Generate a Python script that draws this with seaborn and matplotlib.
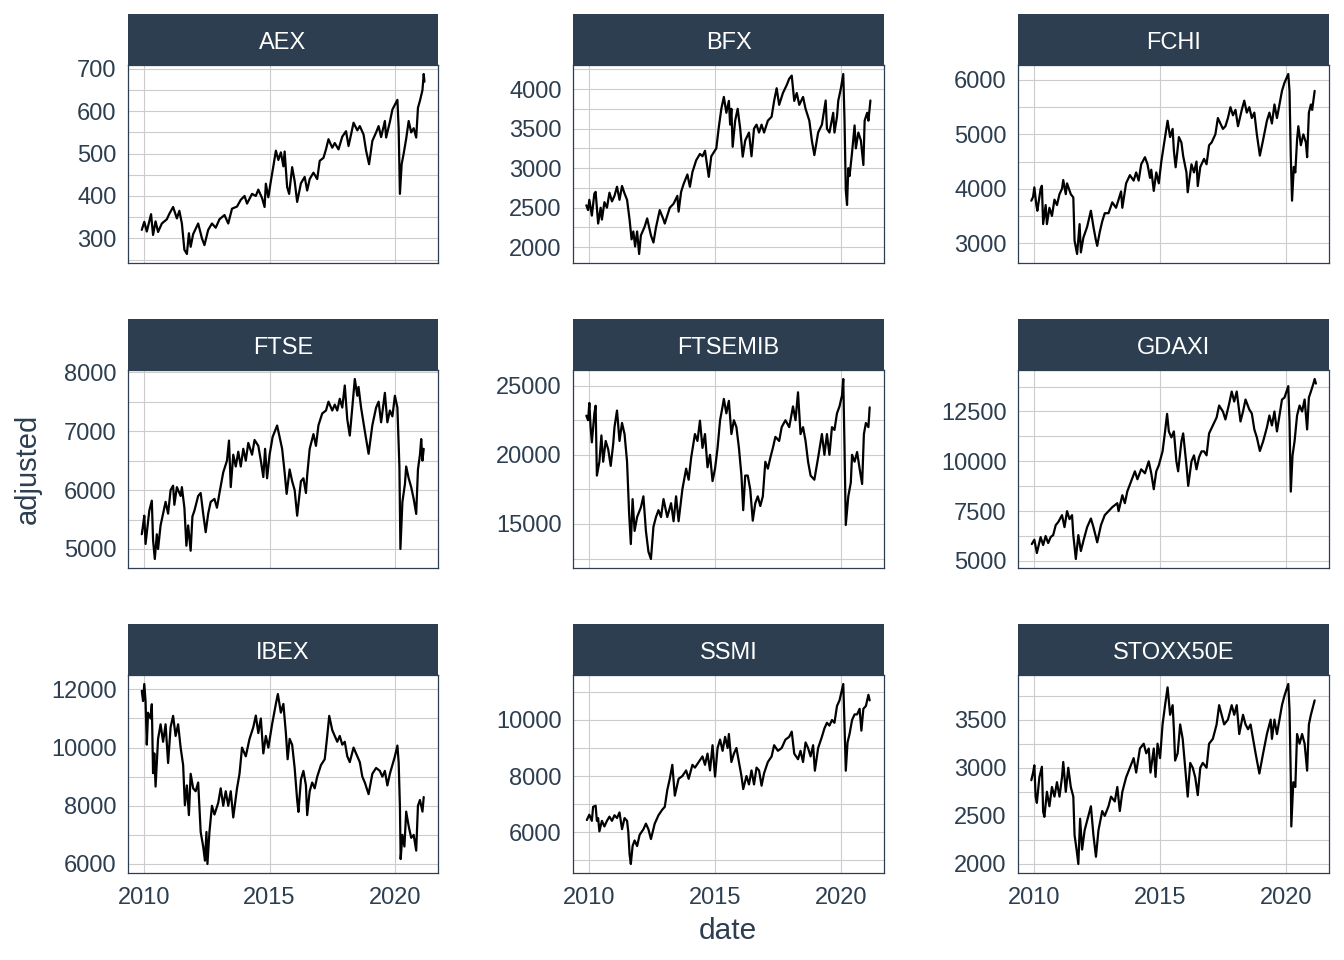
import pandas as pd
import matplotlib
matplotlib.use("Agg")
import matplotlib.pyplot as plt
from matplotlib.ticker import MultipleLocator, FixedLocator
import seaborn as sns

# facet order and the y break step used in each panel
symbols = ["AEX", "BFX", "FCHI", "FTSE", "FTSEMIB", "GDAXI", "IBEX", "SSMI", "STOXX50E"]
y_steps = [100, 500, 1000, 1000, 5000, 2500, 2000, 2000, 500]
x_breaks = [2010, 2015, 2020]
x_labels = ["2010", "2015", "2020"]

# (decimal year, adjusted close)
aex = [(2009.9, 320), (2010.0, 339), (2010.1, 316), (2010.22, 345), (2010.27, 357), (2010.35, 308),
       (2010.45, 340), (2010.55, 315), (2010.7, 335), (2010.9, 345), (2011.0, 358), (2011.15, 374),
       (2011.3, 347), (2011.4, 365), (2011.5, 335), (2011.6, 273), (2011.7, 263), (2011.78, 312),
       (2011.85, 280), (2011.95, 310), (2012.15, 335), (2012.3, 300), (2012.4, 284), (2012.55, 320),
       (2012.7, 335), (2012.85, 325), (2013.0, 345), (2013.2, 355), (2013.35, 335), (2013.5, 370),
       (2013.7, 375), (2013.85, 391), (2014.0, 400), (2014.1, 382), (2014.3, 405), (2014.45, 400),
       (2014.55, 415), (2014.7, 395), (2014.8, 374), (2014.85, 429), (2014.95, 397), (2015.05, 435),
       (2015.15, 470), (2015.25, 507), (2015.35, 485), (2015.45, 503), (2015.55, 470), (2015.6, 505),
       (2015.7, 421), (2015.78, 405), (2015.9, 468), (2016.0, 435), (2016.1, 386), (2016.25, 430),
       (2016.4, 445), (2016.5, 413), (2016.6, 440), (2016.75, 455), (2016.9, 440), (2017.0, 483),
       (2017.15, 490), (2017.25, 510), (2017.35, 534), (2017.5, 514), (2017.6, 525), (2017.75, 510),
       (2017.9, 540), (2018.05, 553), (2018.15, 518), (2018.25, 545), (2018.35, 573), (2018.5, 555),
       (2018.6, 565), (2018.75, 545), (2018.85, 507), (2018.97, 475), (2019.1, 530), (2019.25, 550),
       (2019.35, 565), (2019.45, 539), (2019.6, 577), (2019.65, 538), (2019.8, 575), (2019.9, 604),
       (2020.1, 627), (2020.15, 560), (2020.2, 405), (2020.27, 475), (2020.35, 500), (2020.45, 535),
       (2020.55, 577), (2020.65, 550), (2020.75, 560), (2020.85, 538), (2020.92, 608), (2021.0, 625),
       (2021.1, 650), (2021.15, 688), (2021.18, 670)]

bfx = [(2009.88, 2530), (2009.95, 2470), (2010.0, 2600), (2010.1, 2400), (2010.2, 2680), (2010.25, 2700),
       (2010.35, 2300), (2010.45, 2500), (2010.5, 2350), (2010.6, 2570), (2010.7, 2500), (2010.8, 2690),
       (2010.9, 2580), (2011.0, 2650), (2011.1, 2765), (2011.2, 2600), (2011.3, 2775), (2011.4, 2680),
       (2011.5, 2600), (2011.6, 2350), (2011.68, 2100), (2011.75, 2200), (2011.82, 2010), (2011.9, 2200),
       (2011.98, 1915), (2012.05, 2150), (2012.2, 2260), (2012.3, 2365), (2012.45, 2150), (2012.55, 2060),
       (2012.65, 2250), (2012.8, 2470), (2012.95, 2350), (2013.0, 2300), (2013.2, 2500), (2013.35, 2550),
       (2013.5, 2650), (2013.55, 2450), (2013.65, 2700), (2013.75, 2800), (2013.9, 2920), (2014.0, 2765),
       (2014.1, 2950), (2014.25, 3100), (2014.4, 3180), (2014.5, 3150), (2014.6, 3220), (2014.75, 2890),
       (2014.85, 3150), (2014.95, 3200), (2015.05, 3250), (2015.15, 3520), (2015.25, 3750), (2015.35, 3900),
       (2015.45, 3700), (2015.55, 3850), (2015.6, 3550), (2015.65, 3750), (2015.7, 3270), (2015.8, 3600),
       (2015.9, 3750), (2016.0, 3500), (2016.1, 3145), (2016.2, 3350), (2016.35, 3450), (2016.45, 3150),
       (2016.55, 3500), (2016.65, 3550), (2016.75, 3450), (2016.85, 3550), (2016.95, 3450), (2017.1, 3600),
       (2017.25, 3650), (2017.35, 3850), (2017.45, 4010), (2017.55, 3800), (2017.7, 3950), (2017.85, 4050),
       (2017.95, 4130), (2018.05, 4170), (2018.15, 3850), (2018.25, 3950), (2018.35, 3800), (2018.5, 3900),
       (2018.6, 3750), (2018.75, 3600), (2018.85, 3350), (2018.95, 3165), (2019.1, 3450), (2019.25, 3550),
       (2019.4, 3855), (2019.45, 3500), (2019.55, 3450), (2019.7, 3700), (2019.75, 3450), (2019.85, 3650),
       (2019.9, 3850), (2020.0, 4000), (2020.1, 4190), (2020.15, 3600), (2020.2, 2720), (2020.25, 2535),
       (2020.3, 3000), (2020.35, 2900), (2020.45, 3200), (2020.55, 3540), (2020.6, 3250), (2020.7, 3450),
       (2020.8, 3350), (2020.9, 3040), (2020.95, 3600), (2021.05, 3700), (2021.1, 3600), (2021.18, 3855)]

fchi = [(2009.88, 3780), (2009.95, 3850), (2010.0, 4025), (2010.08, 3700), (2010.12, 3595), (2010.25, 4000),
        (2010.3, 4055), (2010.35, 3350), (2010.45, 3700), (2010.5, 3350), (2010.6, 3650), (2010.7, 3500),
        (2010.8, 3800), (2010.9, 3700), (2011.0, 3900), (2011.1, 4000), (2011.15, 4160), (2011.25, 3900),
        (2011.3, 4100), (2011.45, 3900), (2011.55, 3840), (2011.6, 3045), (2011.7, 2800), (2011.8, 3350),
        (2011.85, 2830), (2011.95, 3100), (2012.1, 3300), (2012.2, 3500), (2012.25, 3595), (2012.35, 3300),
        (2012.45, 3050), (2012.5, 2950), (2012.6, 3200), (2012.7, 3400), (2012.8, 3550), (2012.95, 3550),
        (2013.1, 3750), (2013.25, 3650), (2013.35, 3800), (2013.45, 3950), (2013.5, 3650), (2013.65, 4100),
        (2013.8, 4250), (2013.95, 4150), (2014.05, 4300), (2014.15, 4150), (2014.25, 4450), (2014.4, 4580),
        (2014.5, 4450), (2014.6, 4200), (2014.65, 4350), (2014.75, 3960), (2014.85, 4300), (2014.95, 4100),
        (2015.05, 4500), (2015.15, 4800), (2015.25, 5100), (2015.3, 5250), (2015.4, 4950), (2015.5, 5100),
        (2015.55, 4700), (2015.62, 4395), (2015.75, 4950), (2015.85, 4850), (2015.92, 4600), (2016.05, 4300),
        (2016.1, 3935), (2016.25, 4450), (2016.35, 4300), (2016.45, 4500), (2016.5, 4050), (2016.6, 4400),
        (2016.75, 4550), (2016.85, 4450), (2016.95, 4800), (2017.05, 4850), (2017.2, 5000), (2017.3, 5300),
        (2017.4, 5200), (2017.5, 5100), (2017.6, 5150), (2017.7, 5300), (2017.8, 5500), (2017.9, 5350),
        (2018.0, 5450), (2018.1, 5150), (2018.25, 5450), (2018.35, 5620), (2018.45, 5400), (2018.55, 5500),
        (2018.65, 5300), (2018.75, 5400), (2018.85, 5000), (2018.97, 4610), (2019.1, 4900), (2019.25, 5250),
        (2019.35, 5400), (2019.45, 5200), (2019.55, 5550), (2019.65, 5300), (2019.75, 5550), (2019.85, 5800),
        (2019.95, 5950), (2020.1, 6110), (2020.15, 5800), (2020.2, 4600), (2020.25, 3780), (2020.32, 4400),
        (2020.38, 4300), (2020.45, 4900), (2020.5, 5150), (2020.6, 4800), (2020.7, 5000), (2020.8, 4850),
        (2020.85, 4580), (2020.92, 5400), (2021.0, 5550), (2021.05, 5450), (2021.15, 5800)]

ftse = [(2009.9, 5250), (2009.95, 5400), (2010.0, 5565), (2010.05, 5085), (2010.2, 5650), (2010.3, 5820),
        (2010.35, 5150), (2010.42, 4830), (2010.5, 5250), (2010.55, 5000), (2010.65, 5400), (2010.75, 5600),
        (2010.85, 5800), (2010.95, 5600), (2011.05, 6000), (2011.15, 6075), (2011.2, 5750), (2011.3, 6050),
        (2011.45, 5900), (2011.5, 6050), (2011.6, 5700), (2011.68, 5055), (2011.75, 5400), (2011.85, 4970),
        (2011.92, 5550), (2012.0, 5650), (2012.15, 5900), (2012.25, 5950), (2012.35, 5600), (2012.45, 5285),
        (2012.55, 5600), (2012.65, 5800), (2012.8, 5850), (2012.9, 5700), (2013.0, 5950), (2013.15, 6300),
        (2013.3, 6500), (2013.38, 6840), (2013.45, 6050), (2013.55, 6600), (2013.65, 6400), (2013.75, 6650),
        (2013.85, 6400), (2013.95, 6700), (2014.05, 6500), (2014.15, 6800), (2014.3, 6600), (2014.4, 6850),
        (2014.55, 6750), (2014.65, 6500), (2014.75, 6220), (2014.82, 6700), (2014.9, 6200), (2015.0, 6600),
        (2015.12, 6900), (2015.3, 7095), (2015.4, 6900), (2015.5, 6700), (2015.6, 6300), (2015.68, 5935),
        (2015.8, 6350), (2015.9, 6150), (2016.0, 6000), (2016.1, 5565), (2016.25, 6150), (2016.35, 6200),
        (2016.45, 5950), (2016.5, 6250), (2016.6, 6700), (2016.75, 6950), (2016.85, 6750), (2016.95, 7100),
        (2017.1, 7300), (2017.25, 7350), (2017.35, 7500), (2017.5, 7350), (2017.6, 7450), (2017.7, 7350),
        (2017.8, 7550), (2017.9, 7400), (2018.0, 7775), (2018.1, 7200), (2018.2, 6925), (2018.3, 7400),
        (2018.4, 7885), (2018.5, 7600), (2018.55, 7750), (2018.65, 7400), (2018.8, 7000), (2018.95, 6615),
        (2019.1, 7100), (2019.25, 7400), (2019.35, 7500), (2019.45, 7150), (2019.6, 7650), (2019.7, 7150),
        (2019.8, 7350), (2019.9, 7250), (2020.0, 7600), (2020.1, 7400), (2020.18, 6400), (2020.22, 5000),
        (2020.3, 5800), (2020.4, 6100), (2020.45, 6400), (2020.55, 6200), (2020.65, 6050), (2020.75, 5850),
        (2020.85, 5595), (2020.92, 6350), (2021.0, 6600), (2021.05, 6865), (2021.1, 6500), (2021.15, 6700)]

ftsemib = [(2009.88, 22830), (2009.95, 22500), (2010.0, 23750), (2010.05, 22000), (2010.1, 20900),
           (2010.2, 23000), (2010.25, 23550), (2010.3, 18500), (2010.4, 19500), (2010.48, 21400),
           (2010.55, 19500), (2010.65, 21000), (2010.75, 20400), (2010.85, 19200), (2010.95, 20800),
           (2011.0, 22000), (2011.1, 23200), (2011.2, 21000), (2011.3, 22300), (2011.4, 21500),
           (2011.5, 19500), (2011.58, 15850), (2011.65, 13550), (2011.72, 16800), (2011.8, 14500),
           (2011.9, 15500), (2012.05, 16200), (2012.15, 17000), (2012.25, 14500), (2012.35, 13000),
           (2012.45, 12470), (2012.55, 14800), (2012.65, 15500), (2012.75, 16000), (2012.85, 15500),
           (2012.95, 16800), (2013.1, 15500), (2013.25, 16500), (2013.35, 15200), (2013.45, 17000),
           (2013.55, 15200), (2013.7, 17500), (2013.85, 19000), (2013.95, 18200), (2014.05, 19800),
           (2014.2, 21500), (2014.3, 21000), (2014.4, 22470), (2014.5, 20500), (2014.6, 21500),
           (2014.7, 19100), (2014.8, 20000), (2014.9, 18100), (2015.0, 19000), (2015.1, 20500),
           (2015.2, 22500), (2015.3, 23500), (2015.35, 24040), (2015.45, 23000), (2015.55, 23900),
           (2015.65, 21500), (2015.75, 22500), (2015.85, 22000), (2015.95, 20500), (2016.05, 18500),
           (2016.12, 16000), (2016.2, 18500), (2016.3, 18500), (2016.4, 17500), (2016.5, 15240),
           (2016.6, 16500), (2016.7, 17000), (2016.8, 16300), (2016.9, 17000), (2017.0, 19500),
           (2017.1, 19000), (2017.2, 19800), (2017.3, 20500), (2017.4, 21300), (2017.55, 21000),
           (2017.65, 22000), (2017.8, 22500), (2017.95, 22000), (2018.1, 23500), (2018.2, 22500),
           (2018.3, 24520), (2018.4, 21500), (2018.5, 22000), (2018.6, 21000), (2018.7, 19500),
           (2018.8, 18500), (2018.95, 18200), (2019.1, 19800), (2019.25, 21500), (2019.35, 20000),
           (2019.45, 21500), (2019.55, 20000), (2019.65, 22000), (2019.75, 21800), (2019.85, 23000),
           (2019.95, 23500), (2020.05, 24300), (2020.1, 25480), (2020.15, 20500), (2020.2, 14930),
           (2020.3, 17000), (2020.4, 18000), (2020.45, 20000), (2020.55, 19500), (2020.65, 20200),
           (2020.75, 19000), (2020.85, 17890), (2020.92, 21500), (2021.0, 22300), (2021.1, 22000),
           (2021.15, 23430)]

gdaxi = [(2009.9, 5850), (2010.0, 6065), (2010.1, 5400), (2010.25, 6200), (2010.35, 5800), (2010.45, 6250),
         (2010.55, 5900), (2010.65, 6200), (2010.75, 6300), (2010.85, 6800), (2010.95, 6950), (2011.1, 7300),
         (2011.2, 6700), (2011.3, 7500), (2011.4, 7100), (2011.5, 7300), (2011.55, 6300), (2011.65, 5100),
         (2011.75, 6300), (2011.85, 5500), (2011.95, 6000), (2012.1, 6700), (2012.25, 7130), (2012.35, 6700),
         (2012.45, 6200), (2012.5, 5935), (2012.65, 6800), (2012.8, 7300), (2012.95, 7500), (2013.1, 7700),
         (2013.3, 7900), (2013.35, 7500), (2013.5, 8300), (2013.6, 7900), (2013.7, 8500), (2013.85, 9000),
         (2014.0, 9500), (2014.1, 9100), (2014.25, 9600), (2014.4, 9400), (2014.55, 10000), (2014.65, 9400),
         (2014.75, 8600), (2014.85, 9500), (2014.95, 9800), (2015.1, 10500), (2015.2, 11500), (2015.28, 12380),
         (2015.35, 11500), (2015.45, 11200), (2015.55, 11500), (2015.65, 10000), (2015.72, 9500), (2015.85, 11000),
         (2015.92, 11400), (2016.05, 9800), (2016.12, 8770), (2016.25, 10000), (2016.35, 10300), (2016.45, 9600),
         (2016.55, 10200), (2016.65, 10500), (2016.75, 10500), (2016.85, 10300), (2016.95, 11400), (2017.1, 11800),
         (2017.25, 12200), (2017.35, 12800), (2017.5, 12500), (2017.6, 12100), (2017.75, 12900), (2017.85, 13500),
         (2017.95, 13000), (2018.05, 13500), (2018.2, 12000), (2018.3, 12500), (2018.4, 13100), (2018.55, 12600),
         (2018.65, 12400), (2018.75, 11600), (2018.85, 11200), (2018.97, 10520), (2019.1, 11000), (2019.25, 11700),
         (2019.35, 12300), (2019.45, 11800), (2019.55, 12500), (2019.65, 11500), (2019.75, 12300), (2019.85, 13100),
         (2019.95, 13200), (2020.1, 13770), (2020.15, 12000), (2020.2, 8480), (2020.27, 10300), (2020.35, 11000),
         (2020.45, 12300), (2020.55, 12800), (2020.65, 12500), (2020.75, 13100), (2020.85, 11600), (2020.92, 13200),
         (2021.0, 13500), (2021.1, 13900), (2021.15, 14130), (2021.2, 13900)]

ibex = [(2009.9, 11950), (2009.95, 11600), (2010.0, 12185), (2010.05, 11600), (2010.1, 10100), (2010.15, 11200),
        (2010.25, 11000), (2010.3, 11490), (2010.35, 9120), (2010.4, 9800), (2010.45, 8660), (2010.55, 10300),
        (2010.65, 10800), (2010.75, 10200), (2010.85, 10800), (2010.95, 9470), (2011.05, 10700), (2011.15, 11090),
        (2011.25, 10400), (2011.35, 10800), (2011.45, 10000), (2011.55, 9400), (2011.62, 8020), (2011.7, 8700),
        (2011.78, 7680), (2011.85, 9100), (2011.95, 8600), (2012.05, 8500), (2012.15, 8800), (2012.25, 7100),
        (2012.35, 6600), (2012.42, 6115), (2012.48, 7100), (2012.52, 6000), (2012.6, 7100), (2012.7, 8000),
        (2012.8, 7700), (2012.95, 8100), (2013.05, 8600), (2013.15, 8000), (2013.25, 8500), (2013.35, 8000),
        (2013.45, 8500), (2013.55, 7600), (2013.7, 8600), (2013.8, 9100), (2013.9, 10000), (2014.05, 9700),
        (2014.2, 10300), (2014.35, 10700), (2014.45, 11100), (2014.55, 10500), (2014.65, 11000), (2014.75, 9800),
        (2014.85, 10400), (2014.95, 10000), (2015.1, 10800), (2015.25, 11500), (2015.33, 11840), (2015.45, 11200),
        (2015.55, 11500), (2015.65, 10500), (2015.72, 9600), (2015.8, 10300), (2015.9, 10100), (2016.0, 9300),
        (2016.1, 8200), (2016.15, 7790), (2016.25, 8900), (2016.35, 9200), (2016.45, 8700), (2016.5, 7680),
        (2016.6, 8500), (2016.7, 8800), (2016.8, 8600), (2016.9, 9000), (2017.05, 9400), (2017.2, 9600),
        (2017.3, 10400), (2017.38, 11090), (2017.5, 10600), (2017.6, 10400), (2017.7, 10200), (2017.8, 10400),
        (2017.9, 10100), (2018.0, 10200), (2018.1, 9700), (2018.2, 9500), (2018.35, 10000), (2018.5, 9700),
        (2018.6, 9500), (2018.7, 9000), (2018.8, 8800), (2018.95, 8400), (2019.1, 9100), (2019.25, 9300),
        (2019.4, 9200), (2019.5, 9000), (2019.6, 9200), (2019.7, 8700), (2019.8, 9100), (2019.9, 9400),
        (2020.0, 9700), (2020.1, 10070), (2020.15, 9500), (2020.2, 8000), (2020.23, 6170), (2020.3, 7000),
        (2020.38, 6600), (2020.45, 7800), (2020.55, 7300), (2020.65, 6900), (2020.75, 7000), (2020.85, 6460),
        (2020.92, 8000), (2021.0, 8200), (2021.1, 7800), (2021.15, 8300)]

ssmi = [(2009.9, 6430), (2010.0, 6620), (2010.1, 6400), (2010.15, 6900), (2010.25, 6940), (2010.3, 6400),
        (2010.35, 6500), (2010.4, 6025), (2010.5, 6400), (2010.6, 6200), (2010.7, 6400), (2010.8, 6550),
        (2010.9, 6400), (2011.0, 6600), (2011.1, 6500), (2011.2, 6700), (2011.3, 6105), (2011.4, 6500),
        (2011.5, 6400), (2011.55, 6000), (2011.6, 5200), (2011.65, 4860), (2011.72, 5500), (2011.8, 5700),
        (2011.9, 5500), (2012.0, 5900), (2012.15, 6100), (2012.25, 6300), (2012.35, 6100), (2012.45, 5750),
        (2012.6, 6300), (2012.75, 6600), (2012.9, 6800), (2013.0, 6900), (2013.1, 7500), (2013.2, 7900),
        (2013.3, 8400), (2013.4, 7300), (2013.55, 7900), (2013.7, 8000), (2013.85, 8200), (2013.95, 7900),
        (2014.1, 8400), (2014.2, 8300), (2014.35, 8500), (2014.5, 8700), (2014.6, 8400), (2014.7, 8800),
        (2014.8, 8200), (2014.9, 9100), (2015.0, 7980), (2015.1, 9000), (2015.2, 9300), (2015.3, 8900),
        (2015.4, 9400), (2015.5, 9000), (2015.55, 9500), (2015.65, 8500), (2015.75, 8800), (2015.85, 9000),
        (2015.95, 8500), (2016.05, 8000), (2016.12, 7535), (2016.25, 8000), (2016.35, 7700), (2016.45, 8200),
        (2016.55, 7700), (2016.65, 8300), (2016.75, 8200), (2016.85, 7655), (2016.95, 8100), (2017.1, 8500),
        (2017.25, 8700), (2017.35, 9100), (2017.5, 8900), (2017.65, 9000), (2017.8, 9300), (2017.95, 9400),
        (2018.05, 9585), (2018.15, 8800), (2018.3, 8600), (2018.4, 8900), (2018.5, 8500), (2018.6, 9200),
        (2018.7, 9000), (2018.8, 8700), (2018.9, 9100), (2018.97, 8190), (2019.1, 9000), (2019.25, 9400),
        (2019.35, 9700), (2019.45, 9900), (2019.55, 9800), (2019.65, 10000), (2019.75, 9900), (2019.85, 10500),
        (2019.95, 10700), (2020.1, 11285), (2020.15, 9800), (2020.2, 8190), (2020.27, 9200), (2020.35, 9500),
        (2020.45, 10000), (2020.55, 10200), (2020.65, 10200), (2020.75, 10400), (2020.82, 9620), (2020.9, 10400),
        (2021.0, 10500), (2021.1, 10900), (2021.15, 10700)]

stoxx50e = [(2009.88, 2870), (2009.95, 2950), (2010.0, 3025), (2010.05, 2700), (2010.1, 2635), (2010.2, 2900),
            (2010.3, 3010), (2010.35, 2545), (2010.4, 2490), (2010.5, 2750), (2010.6, 2600), (2010.7, 2800),
            (2010.8, 2700), (2010.9, 2850), (2011.0, 2700), (2011.1, 2900), (2011.15, 3060), (2011.25, 2750),
            (2011.35, 3000), (2011.45, 2800), (2011.55, 2700), (2011.6, 2300), (2011.68, 2150), (2011.75, 2000),
            (2011.82, 2470), (2011.9, 2150), (2012.0, 2350), (2012.15, 2500), (2012.25, 2600), (2012.35, 2300),
            (2012.45, 2075), (2012.55, 2350), (2012.7, 2550), (2012.8, 2500), (2012.95, 2600), (2013.05, 2700),
            (2013.2, 2650), (2013.3, 2800), (2013.4, 2550), (2013.5, 2750), (2013.65, 2900), (2013.8, 3000),
            (2013.95, 3100), (2014.05, 2950), (2014.2, 3200), (2014.35, 3250), (2014.45, 3150), (2014.55, 3200),
            (2014.62, 2950), (2014.75, 3200), (2014.82, 2905), (2014.9, 3250), (2015.0, 3100), (2015.1, 3450),
            (2015.2, 3650), (2015.3, 3835), (2015.4, 3550), (2015.5, 3650), (2015.55, 3400), (2015.6, 3075),
            (2015.7, 3150), (2015.8, 3450), (2015.9, 3300), (2016.0, 3000), (2016.1, 2700), (2016.2, 3050),
            (2016.3, 3000), (2016.4, 2900), (2016.5, 2715), (2016.6, 3000), (2016.7, 3050), (2016.85, 3000),
            (2016.95, 3250), (2017.1, 3300), (2017.25, 3450), (2017.35, 3650), (2017.45, 3550), (2017.55, 3450),
            (2017.7, 3500), (2017.85, 3650), (2017.95, 3550), (2018.05, 3650), (2018.15, 3350), (2018.3, 3550),
            (2018.4, 3450), (2018.5, 3400), (2018.6, 3450), (2018.7, 3300), (2018.8, 3150), (2018.95, 2940),
            (2019.1, 3150), (2019.25, 3350), (2019.4, 3500), (2019.45, 3300), (2019.55, 3500), (2019.65, 3350),
            (2019.75, 3500), (2019.85, 3650), (2019.95, 3750), (2020.1, 3870), (2020.15, 3600), (2020.2, 2900),
            (2020.22, 2390), (2020.3, 2850), (2020.38, 2800), (2020.45, 3350), (2020.55, 3250), (2020.65, 3350),
            (2020.75, 3250), (2020.85, 2970), (2020.92, 3450), (2021.0, 3550), (2021.1, 3650), (2021.15, 3700)]

all_series = [aex, bfx, fchi, ftse, ftsemib, gdaxi, ibex, ssmi, stoxx50e]

frames = []
for sym, pts in zip(symbols, all_series):
    d = pd.DataFrame(pts, columns=["date", "adjusted"])
    d["symbol"] = sym
    frames.append(d)
df = pd.concat(frames, ignore_index=True)

sns.set_style("white")
plt.rcParams["font.family"] = ["Liberation Sans", "DejaVu Sans"]

dark = "#2c3e50"
grid_col = "#cccccc"
W, H = 1344, 960

# panel boxes in pixels (left, right) / (top, bottom)
col_x = [(128, 438), (573, 884), (1018, 1329)]
row_y = [(65, 263), (370, 568), (675, 873)]
strip_h = 51


def box(x0, x1, y0, y1):
    return [x0 / W, 1 - y1 / H, (x1 - x0) / W, (y1 - y0) / H]


fig = plt.figure(figsize=(W / 100, H / 100), dpi=100)

for i, sym in enumerate(symbols):
    r, c = divmod(i, 3)
    x0, x1 = col_x[c]
    y0, y1 = row_y[r]
    ax = fig.add_axes(box(x0, x1, y0, y1))
    sub = df[df["symbol"] == sym]
    sns.lineplot(data=sub, x="date", y="adjusted", ax=ax, color="black",
                 linewidth=1.6, estimator=None)

    lo, hi = sub["adjusted"].min(), sub["adjusted"].max()
    pad = (hi - lo) * 0.05
    ax.set_ylim(lo - pad, hi + pad)
    ax.set_xlim(2009.35, 2021.72)

    ax.yaxis.set_major_locator(MultipleLocator(y_steps[i]))
    ax.yaxis.set_minor_locator(MultipleLocator(y_steps[i] / 2))
    ax.xaxis.set_major_locator(FixedLocator(x_breaks))
    ax.set_xticklabels(x_labels if r == 2 else [])

    ax.grid(which="both", axis="y", color=grid_col, linewidth=0.8)
    ax.grid(which="major", axis="x", color=grid_col, linewidth=0.8)
    ax.set_axisbelow(True)
    for sp in ax.spines.values():
        sp.set_color(dark)
        sp.set_linewidth(0.9)
    ax.tick_params(which="major", length=2.75, width=0.8, color=grid_col,
                   labelsize=17, labelcolor=dark)
    ax.tick_params(axis="y", which="major", pad=5.5)
    ax.tick_params(axis="x", which="major", pad=7.5)
    ax.tick_params(which="minor", length=0)
    ax.set_xlabel("")
    ax.set_ylabel("")

    # facet strip
    sax = fig.add_axes(box(x0, x1, y0 - strip_h, y0))
    sax.set_facecolor(dark)
    sax.set_xticks([])
    sax.set_yticks([])
    for sp in sax.spines.values():
        sp.set_visible(False)
    sax.text(0.5, 0.44, sym, color="white", ha="center", va="center", fontsize=17)

fig.text(27.5 / W, 1 - 469 / H, "adjusted", rotation=90, ha="center", va="center",
         fontsize=21, color=dark)
fig.text(728 / W, 1 - 931 / H, "date", ha="center", va="center", fontsize=21.5, color=dark)

fig.savefig("out.png", dpi=100)
